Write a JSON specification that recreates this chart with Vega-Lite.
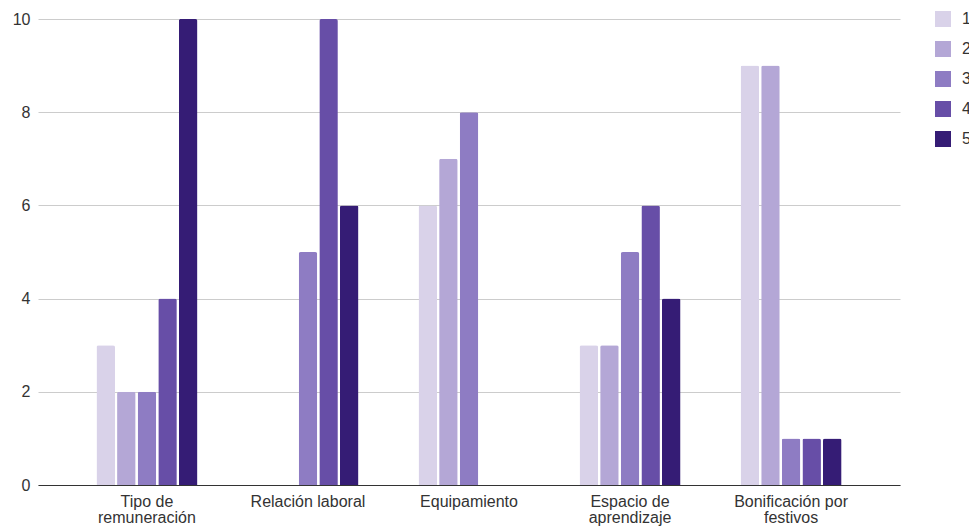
{
  "$schema": "https://vega.github.io/schema/vega-lite/v6.json",
  "width": 862,
  "height": 466,
  "autosize": {"type": "none"},
  "padding": {"left": 38, "top": 19, "right": 69, "bottom": 42},
  "background": "white",
  "config": {
    "view": {"stroke": null},
    "font": "Liberation Sans",
    "axis": {"labelFont": "Liberation Sans", "labelFontSize": 15, "labelColor": "#333333", "title": null}
  },
  "data": {
    "values": [
      {"categoria": "Tipo de remuneración", "serie": "1", "valor": 3},
      {"categoria": "Tipo de remuneración", "serie": "2", "valor": 2},
      {"categoria": "Tipo de remuneración", "serie": "3", "valor": 2},
      {"categoria": "Tipo de remuneración", "serie": "4", "valor": 4},
      {"categoria": "Tipo de remuneración", "serie": "5", "valor": 10},
      {"categoria": "Relación laboral", "serie": "3", "valor": 5},
      {"categoria": "Relación laboral", "serie": "4", "valor": 10},
      {"categoria": "Relación laboral", "serie": "5", "valor": 6},
      {"categoria": "Equipamiento", "serie": "1", "valor": 6},
      {"categoria": "Equipamiento", "serie": "2", "valor": 7},
      {"categoria": "Equipamiento", "serie": "3", "valor": 8},
      {"categoria": "Espacio de aprendizaje", "serie": "1", "valor": 3},
      {"categoria": "Espacio de aprendizaje", "serie": "2", "valor": 3},
      {"categoria": "Espacio de aprendizaje", "serie": "3", "valor": 5},
      {"categoria": "Espacio de aprendizaje", "serie": "4", "valor": 6},
      {"categoria": "Espacio de aprendizaje", "serie": "5", "valor": 4},
      {"categoria": "Bonificación por festivos", "serie": "1", "valor": 9},
      {"categoria": "Bonificación por festivos", "serie": "2", "valor": 9},
      {"categoria": "Bonificación por festivos", "serie": "3", "valor": 1},
      {"categoria": "Bonificación por festivos", "serie": "4", "valor": 1},
      {"categoria": "Bonificación por festivos", "serie": "5", "valor": 1}
    ]
  },
  "mark": {"type": "bar", "cornerRadiusTopLeft": 2, "cornerRadiusTopRight": 2},
  "encoding": {
    "x": {
      "field": "categoria",
      "type": "nominal",
      "sort": ["Tipo de remuneración", "Relación laboral", "Equipamiento", "Espacio de aprendizaje", "Bonificación por festivos"],
      "scale": {"paddingInner": 0.373, "paddingOuter": 0.363},
      "axis": {
        "labelAngle": 0,
        "ticks": false,
        "domainColor": "#333333",
        "domainWidth": 1,
        "labelPadding": 8,
        "labelFontSize": 16,
        "labelLineHeight": 16,
        "labelExpr": "datum.value == 'Tipo de remuneración' ? ['Tipo de', 'remuneración'] : datum.value == 'Espacio de aprendizaje' ? ['Espacio de', 'aprendizaje'] : datum.value == 'Bonificación por festivos' ? ['Bonificación por', 'festivos'] : datum.value"
      }
    },
    "xOffset": {
      "field": "serie",
      "type": "nominal",
      "scale": {"domain": ["1", "2", "3", "4", "5"], "paddingInner": 0.1}
    },
    "y": {
      "field": "valor",
      "type": "quantitative",
      "scale": {"domain": [0, 10], "nice": false},
      "axis": {
        "values": [0, 2, 4, 6, 8, 10],
        "domain": false,
        "ticks": false,
        "gridColor": "#cccccc",
        "labelFontSize": 16,
        "labelPadding": 8
      }
    },
    "color": {
      "field": "serie",
      "type": "nominal",
      "scale": {"domain": ["1", "2", "3", "4", "5"], "range": ["#d9d2e9", "#b4a7d6", "#8e7cc3", "#674ea7", "#351c75"]},
      "legend": {
        "title": null,
        "orient": "none",
        "legendX": 897,
        "legendY": -8,
        "symbolType": "square",
        "symbolSize": 256,
        "symbolStrokeWidth": 0,
        "rowPadding": 14,
        "labelFontSize": 16,
        "labelColor": "#333333",
        "labelOffset": 11
      }
    }
  }
}
